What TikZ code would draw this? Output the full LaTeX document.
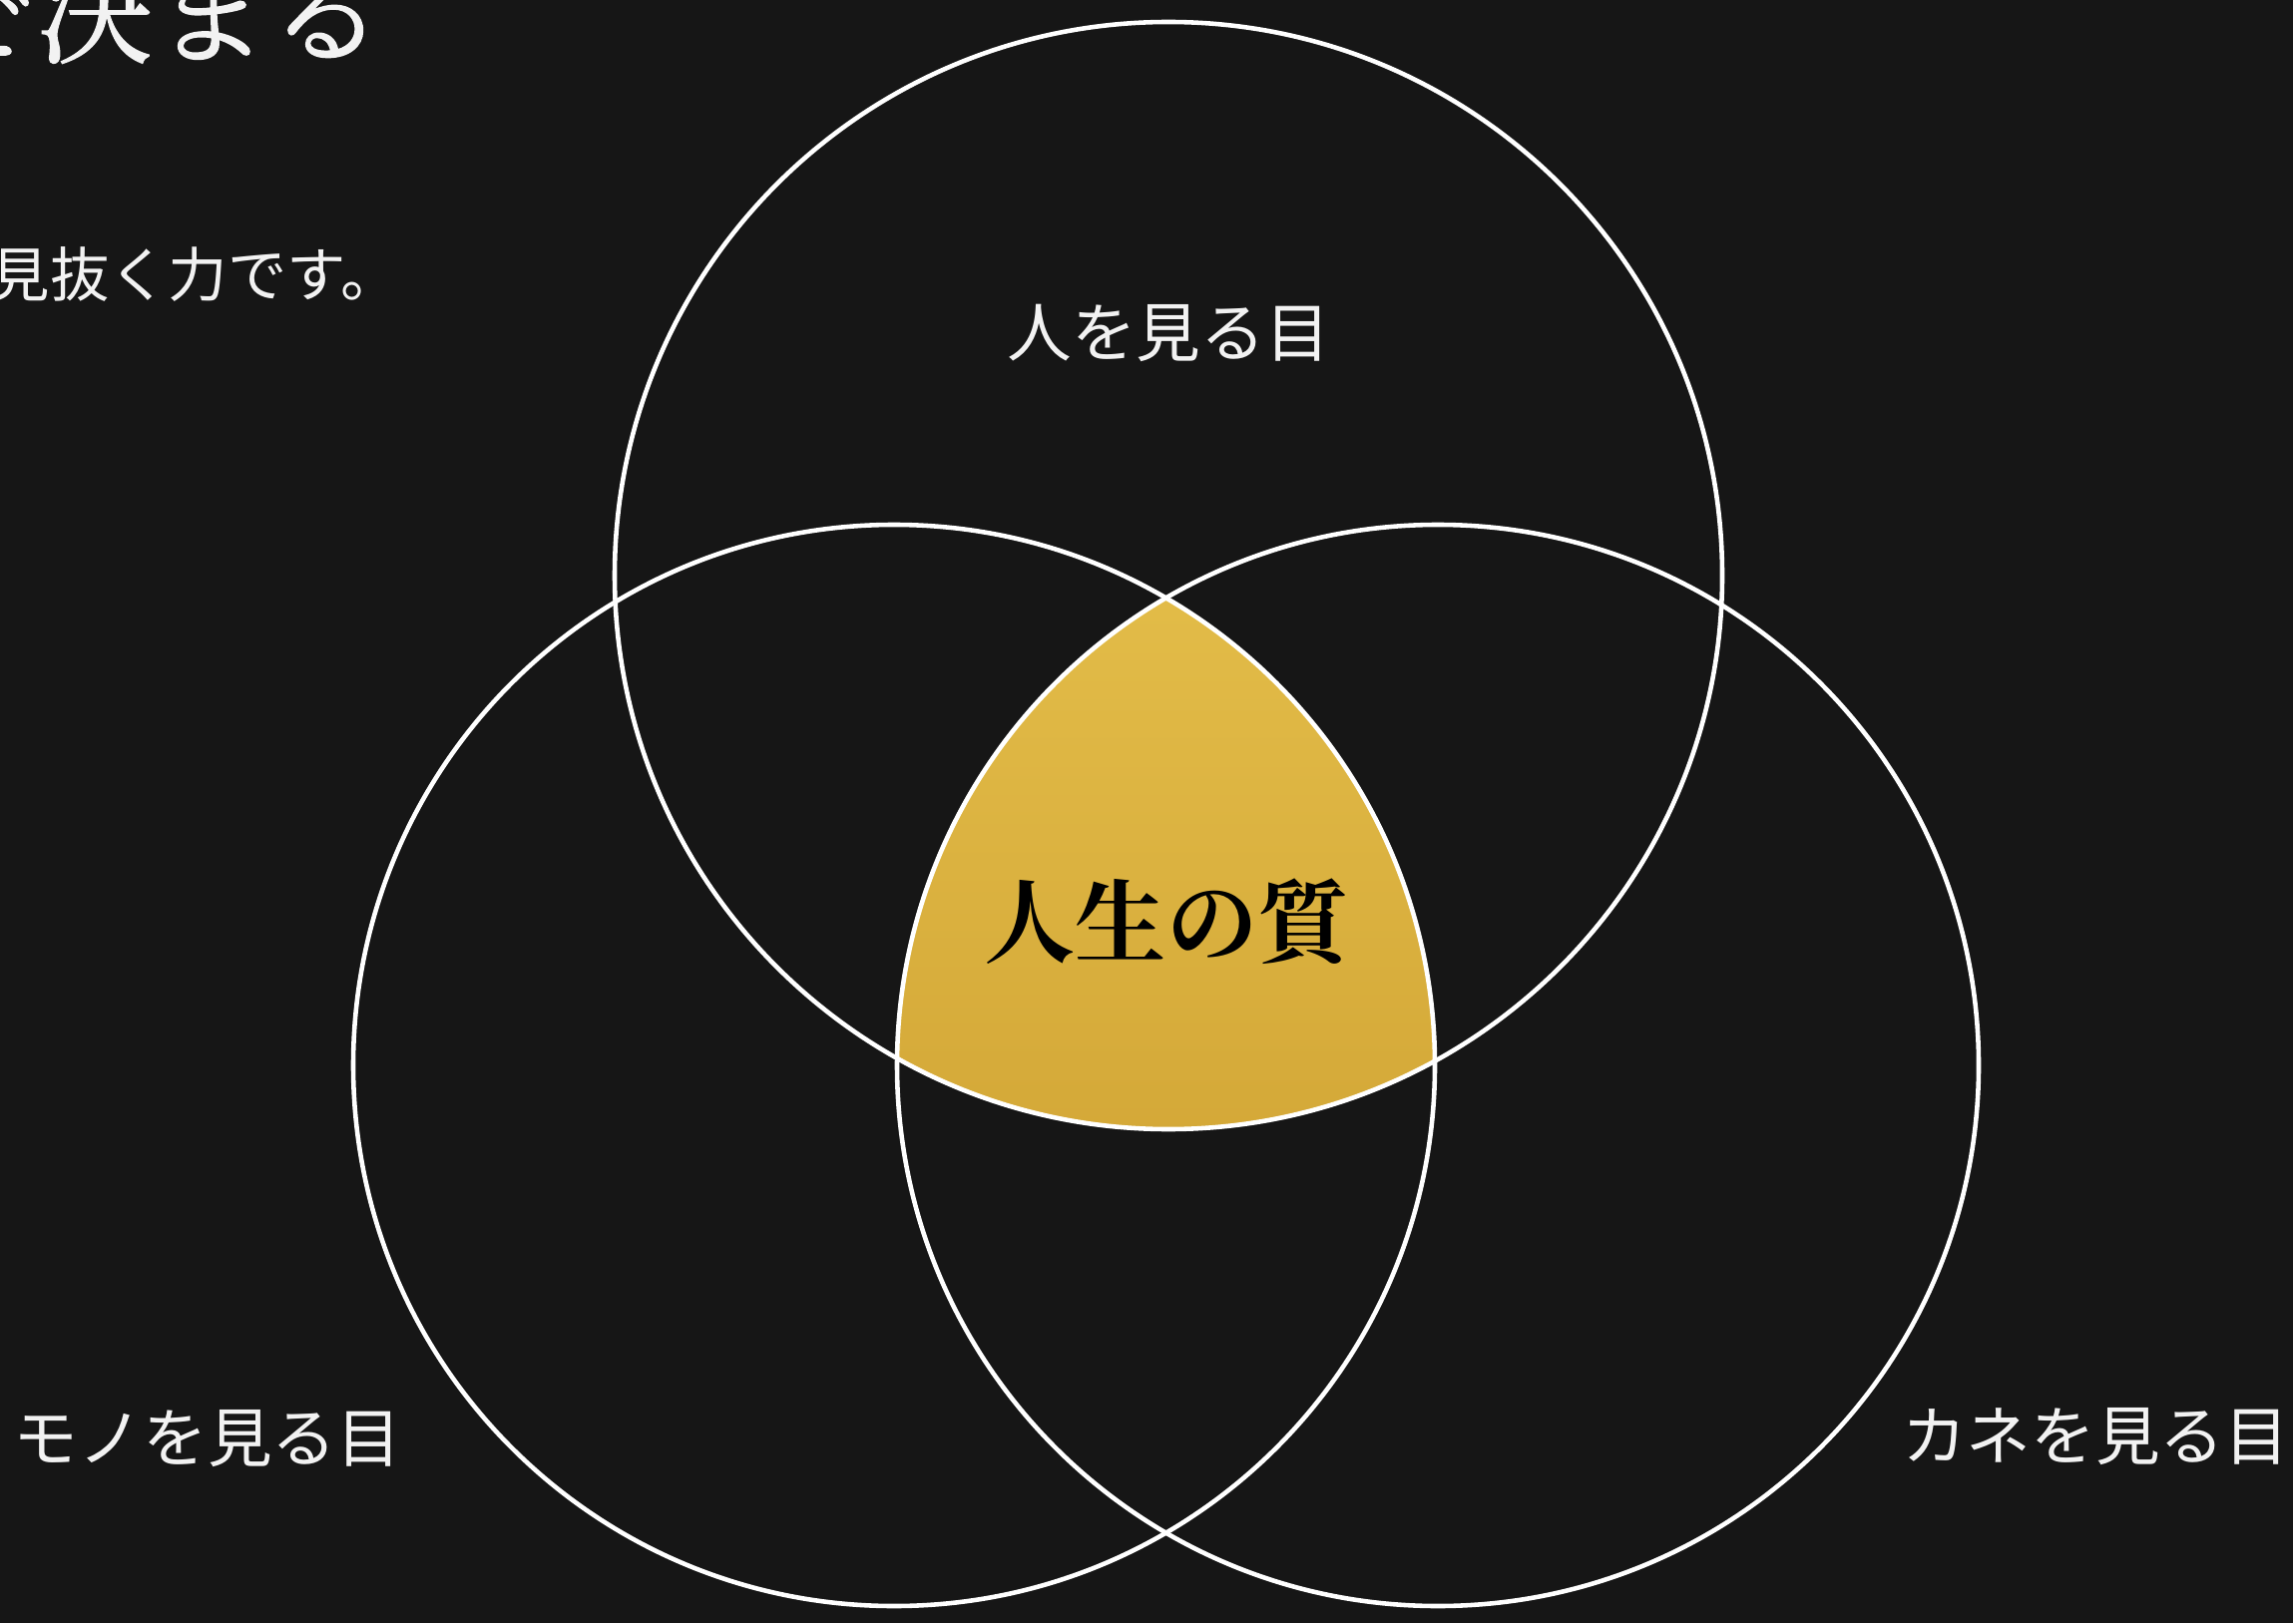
\documentclass[tikz,border=0pt]{standalone}
\usepackage{fontspec}
\setmainfont{Noto Sans CJK JP}
\newfontfamily\jpfont{Noto Sans CJK JP}
\newfontfamily\jpserif{Noto Serif CJK JP}
\newfontfamily\jpserifmed{Noto Serif CJK JP}[FakeBold=1.2]
\definecolor{bgdark}{RGB}{22,22,22}
\definecolor{goldtop}{RGB}{228,190,74}
\definecolor{goldbot}{RGB}{200,152,42}
\definecolor{txtwhite}{RGB}{242,242,242}
\tikzset{
  ring/.style={draw=white, line width=1.3pt},
  labeltext/.style={text=txtwhite, inner sep=0pt, font=\jpfont\fontsize{18.4pt}{21pt}\selectfont},
  centertext/.style={text=black, inner sep=0pt, font=\jpserif\bfseries\fontsize{26pt}{30pt}\selectfont},
  titletext/.style={text=txtwhite, inner sep=0pt, anchor=west, font=\jpserifmed\fontsize{33pt}{36pt}\selectfont},
  subtext/.style={text=txtwhite, inner sep=0pt, anchor=west, font=\jpfont\fontsize{16.9pt}{19pt}\selectfont}
}
\begin{document}
\begin{tikzpicture}
\useasboundingbox (0,0) rectangle (22.98,16.27);
\fill[bgdark] (0,0) rectangle (22.98,16.27);
\clip (0,0) rectangle (22.98,16.27);
% circle centres
\coordinate (ct) at (11.71,10.50);
\coordinate (cl) at (8.96,5.59);
\coordinate (cr) at (14.41,5.59);
% gold intersection
\begin{scope}
  \clip (ct) circle (5.55);
  \clip (cl) circle (5.42);
  \shade[top color=goldtop, bottom color=goldbot] (cr) circle (5.42);
\end{scope}
% rings
\draw[ring] (ct) circle (5.55);
\draw[ring] (cl) circle (5.42);
\draw[ring] (cr) circle (5.42);
% texts
\node[titletext] (title) at (-0.80,16.16) {で決まる};
\node[subtext] (sub) at (-0.10,13.52) {見抜く力です。};
\node[labeltext] (people) at (11.71,12.93) {人を見る目};
\node[labeltext] (things) at (2.08,1.85) {モノを見る目};
\node[labeltext] (money) at (21.00,1.87) {カネを見る目};
\node[centertext] (life) at (11.69,7.01) {人生の質};
\end{tikzpicture}
\end{document}
